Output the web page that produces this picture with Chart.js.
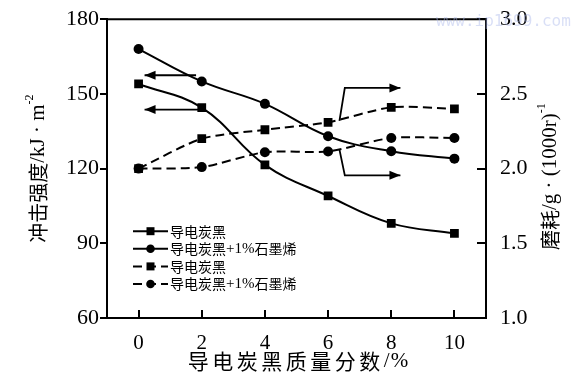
<!DOCTYPE html>
<html lang="zh">
<head>
    <meta charset="UTF-8">
    <title>导电炭黑质量分数</title>
    <style>
        body { margin: 0; padding: 0; background: #fff; }
        .wrap { width: 585px; height: 375px; position: relative; }
    </style>
</head>
<body>
    <div class="wrap">
        <canvas id="chart" width="585" height="375"></canvas>
    </div>

    <script src="https://cdn.jsdelivr.net/npm/chart.js"></script>
    <script>
        // data
        const loadings = [0, 2, 4, 6, 8, 10];
        const impactCB = [154, 144.5, 121.5, 109, 98, 94];
        const impactCBG = [168, 155, 146, 133, 127, 124];
        const wearCB = [2.0, 2.2, 2.26, 2.31, 2.41, 2.4];
        const wearCBG = [2.0, 2.01, 2.11, 2.115, 2.205, 2.205];

        const xTicks = [0, 2, 4, 6, 8, 10];
        const leftTicks = [60, 90, 120, 150, 180];
        const rightTicks = [1.0, 1.5, 2.0, 2.5, 3.0];
        const seriesLabels = ['导电炭黑', '导电炭黑+1%石墨烯', '导电炭黑', '导电炭黑+1%石墨烯'];

        const CJK = '"Noto Sans CJK SC"';
        const SERIF = '"Liberation Serif", "Times New Roman", serif';

        // arrows pointing to the axis each group belongs to (data units)
        const arrowsLeft = [
            { axis: 'y', pts: [[1.82, 157.5], [0.19, 157.5]] },
            { axis: 'y', pts: [[1.92, 143.7], [0.19, 143.7]] }
        ];
        const arrowsRight = [
            { axis: 'y2', pts: [[6.36, 2.32], [6.53, 2.54], [8.29, 2.54]] },
            { axis: 'y2', pts: [[6.36, 2.127], [6.53, 1.955], [8.29, 1.955]] }
        ];

        function pairs(ys) {
            return loadings.map((x, i) => ({ x: x, y: ys[i] }));
        }

        function drawRich(ctx, parts, cx, cy, rot) {
            ctx.save();
            let total = 0;
            parts.forEach(p => {
                ctx.font = p.f;
                p.w = ctx.measureText(p.t).width + (p.gap || 0);
                total += p.w;
            });
            ctx.translate(cx, cy);
            ctx.rotate(rot);
            ctx.textBaseline = 'middle';
            ctx.textAlign = 'left';
            ctx.fillStyle = '#000';
            let x = -total / 2;
            parts.forEach(p => {
                ctx.font = p.f;
                ctx.fillText(p.t, x, p.dy || 0);
                x += p.w;
            });
            ctx.restore();
        }

        function drawMarker(ctx, style, x, y, r) {
            ctx.beginPath();
            if (style === 'rect') {
                ctx.rect(x - r, y - r, r * 2, r * 2);
            } else {
                ctx.arc(x, y, r, 0, Math.PI * 2);
            }
            ctx.fill();
        }

        const extras = {
            id: 'extras',
            afterDraw(chart) {
                const ctx = chart.ctx;
                const area = chart.chartArea;
                const sx = chart.scales.x;
                const sy2 = chart.scales.y2;

                ctx.save();
                ctx.strokeStyle = '#000';
                ctx.fillStyle = '#000';
                ctx.lineWidth = 2;

                // top frame
                ctx.beginPath();
                ctx.moveTo(area.left, area.top);
                ctx.lineTo(area.right, area.top);
                ctx.stroke();

                // inward ticks on bottom and right
                ctx.beginPath();
                xTicks.forEach(v => {
                    const px = Math.round(sx.getPixelForValue(v));
                    ctx.moveTo(px, area.bottom);
                    ctx.lineTo(px, area.bottom - 8);
                });
                rightTicks.forEach(v => {
                    const py = Math.round(sy2.getPixelForValue(v));
                    ctx.moveTo(area.right, py);
                    ctx.lineTo(area.right - 9, py);
                });
                ctx.stroke();

                // arrows
                ctx.lineWidth = 1.8;
                arrowsLeft.concat(arrowsRight).forEach(a => {
                    const ys = chart.scales[a.axis];
                    const p = a.pts.map(q => [sx.getPixelForValue(q[0]), ys.getPixelForValue(q[1])]);
                    ctx.beginPath();
                    ctx.moveTo(p[0][0], p[0][1]);
                    for (let i = 1; i < p.length; i++) ctx.lineTo(p[i][0], p[i][1]);
                    ctx.stroke();
                    const end = p[p.length - 1], prev = p[p.length - 2];
                    const ang = Math.atan2(end[1] - prev[1], end[0] - prev[0]);
                    ctx.beginPath();
                    ctx.moveTo(end[0], end[1]);
                    ctx.lineTo(end[0] - 11 * Math.cos(ang) + 4.5 * Math.sin(ang), end[1] - 11 * Math.sin(ang) - 4.5 * Math.cos(ang));
                    ctx.lineTo(end[0] - 11 * Math.cos(ang) - 4.5 * Math.sin(ang), end[1] - 11 * Math.sin(ang) + 4.5 * Math.cos(ang));
                    ctx.closePath();
                    ctx.fill();
                });

                // legend
                const lx = area.left + 26, ly = area.top + 212, rowH = 17.6;
                chart.data.datasets.forEach((ds, i) => {
                    const y = ly + i * rowH;
                    ctx.save();
                    ctx.lineWidth = 2;
                    ctx.setLineDash(ds.borderDash || []);
                    ctx.beginPath();
                    ctx.moveTo(lx, y);
                    ctx.lineTo(lx + 35, y);
                    ctx.stroke();
                    ctx.restore();
                    drawMarker(ctx, ds.pointStyle, lx + 17.5, y, ds.pointStyle === 'rect' ? 4 : 4.3);
                    const label = ds.label;
                    const k = label.indexOf('+1%');
                    let parts;
                    if (k < 0) {
                        parts = [{ t: label, f: '14px ' + CJK }];
                    } else {
                        parts = [
                            { t: label.slice(0, k), f: '14px ' + CJK },
                            { t: '+1%', f: '15px ' + SERIF },
                            { t: label.slice(k + 3), f: '14px ' + CJK }
                        ];
                    }
                    let w = 0;
                    parts.forEach(p => { ctx.font = p.f; w += ctx.measureText(p.t).width; });
                    drawRich(ctx, parts, lx + 37 + w / 2, y, 0);
                });

                // axis titles
                drawRich(ctx, [
                    { t: '冲击强度', f: '20px ' + CJK },
                    { t: '/kJ · m', f: '21px ' + SERIF },
                    { t: '-2', f: '12px ' + SERIF, dy: -8 }
                ], 38, (area.top + area.bottom) / 2, -Math.PI / 2);

                drawRich(ctx, [
                    { t: '磨耗', f: '20px ' + CJK },
                    { t: '/g · (1000r)', f: '21px ' + SERIF },
                    { t: '-1', f: '12px ' + SERIF, dy: -8 }
                ], 550, (area.top + area.bottom) / 2 + 8, -Math.PI / 2);

                const xTitle = '导电炭黑质量分数'.split('').map(c => ({ t: c, f: '21px ' + CJK, gap: 3.5 }));
                xTitle.push({ t: '/', f: '21px ' + SERIF, gap: 1 }, { t: '%', f: '21px ' + SERIF });
                drawRich(ctx, xTitle, 298, 361, 0);

                // watermark
                ctx.font = '16px "DejaVu Sans Mono", monospace';
                ctx.fillStyle = 'rgba(170, 185, 235, 0.45)';
                ctx.textBaseline = 'middle';
                ctx.fillText('www.ip1699.com', 436, 22);

                ctx.restore();
            }
        };

        const lineBase = {
            borderColor: '#000',
            backgroundColor: '#000',
            borderWidth: 2,
            pointBorderWidth: 0,
            fill: false
        };

        new Chart(document.getElementById('chart'), {
            type: 'line',
            data: {
                datasets: [
                    Object.assign({}, lineBase, {
                        label: seriesLabels[0], data: pairs(impactCB), yAxisID: 'y',
                        pointStyle: 'rect', pointRadius: 6.2, tension: 0.4
                    }),
                    Object.assign({}, lineBase, {
                        label: seriesLabels[1], data: pairs(impactCBG), yAxisID: 'y',
                        pointStyle: 'circle', pointRadius: 5, tension: 0.4
                    }),
                    Object.assign({}, lineBase, {
                        label: seriesLabels[2], data: pairs(wearCB), yAxisID: 'y2',
                        pointStyle: 'rect', pointRadius: 6.2, borderDash: [9, 5], tension: 0.25
                    }),
                    Object.assign({}, lineBase, {
                        label: seriesLabels[3], data: pairs(wearCBG), yAxisID: 'y2',
                        pointStyle: 'circle', pointRadius: 5, borderDash: [9, 5], tension: 0.25
                    })
                ]
            },
            options: {
                responsive: false,
                animation: false,
                devicePixelRatio: 1,
                layout: { padding: { top: 15, left: 0, right: 0, bottom: 0 } },
                plugins: {
                    legend: { display: false },
                    tooltip: { enabled: false }
                },
                scales: {
                    x: {
                        type: 'linear',
                        min: -1,
                        max: 11,
                        afterBuildTicks: s => { s.ticks = xTicks.map(v => ({ value: v })); },
                        afterFit: s => { s.height = 57; },
                        grid: { display: false },
                        border: { display: true, color: '#000', width: 2 },
                        ticks: {
                            color: '#000',
                            padding: 5,
                            font: { family: SERIF, size: 21 },
                            callback: v => String(v)
                        }
                    },
                    y: {
                        position: 'left',
                        min: 60,
                        max: 180,
                        afterBuildTicks: s => { s.ticks = leftTicks.map(v => ({ value: v })); },
                        afterFit: s => { s.width = 107; },
                        grid: {
                            display: true, drawOnChartArea: false, drawTicks: true,
                            tickLength: 7, color: '#000', lineWidth: 2
                        },
                        border: { display: true, color: '#000', width: 2 },
                        ticks: {
                            color: '#000',
                            padding: 1,
                            font: { family: SERIF, size: 22 },
                            callback: v => String(v)
                        }
                    },
                    y2: {
                        position: 'right',
                        min: 1.0,
                        max: 3.0,
                        afterBuildTicks: s => { s.ticks = rightTicks.map(v => ({ value: v })); },
                        afterFit: s => { s.width = 99; },
                        grid: { display: false },
                        border: { display: true, color: '#000', width: 2 },
                        ticks: {
                            color: '#000',
                            padding: 6,
                            font: { family: SERIF, size: 22 },
                            callback: v => v.toFixed(1)
                        }
                    }
                }
            },
            plugins: [extras]
        });
    </script>
</body>
</html>
